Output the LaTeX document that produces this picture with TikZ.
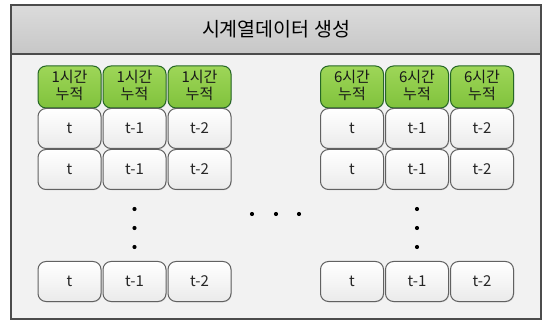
\documentclass[tikz,border=0pt]{standalone}
\usepackage{fontspec}
\setmainfont{Noto Sans CJK KR}
\usetikzlibrary{shadows}
\begin{document}
\begin{tikzpicture}[x=1pt,y=1pt,
  frame/.style={draw=black!70, line width=1.1pt},
  softshadow/.style={drop shadow={opacity=0.18, shadow xshift=0.8pt, shadow yshift=-0.8pt}},
  greenbox/.style={draw=green!30!black!85, line width=1pt, rounded corners=8pt,
    top color={rgb,255:red,158;green,214;blue,88}, bottom color={rgb,255:red,128;green,194;blue,60},
    minimum width=63pt, minimum height=42pt, inner sep=0pt, softshadow},
  greentext/.style={align=center, inner sep=0pt, text=black!90,
    font=\fontsize{15}{17}\selectfont},
  cellbox/.style={draw=black!62, line width=1pt, rounded corners=8pt,
    top color=white, bottom color=black!8,
    minimum width=63pt, minimum height=40pt, inner sep=0pt, softshadow},
  celltext/.style={font=\fontsize{15}{17}\selectfont, text=black!85},
  dotmark/.style={circle, fill=black, inner sep=0pt, minimum size=4.2pt}
]
\useasboundingbox (0,0) rectangle (542,-321);
% body and header
\fill[black!5] (11,-54) rectangle (541,-319);
\shade[top color=black!14, bottom color=black!22] (11,-5) rectangle (541,-54);
\draw[frame] (11,-5) rectangle (541,-319);
\draw[frame] (11,-54) -- (541,-54);
\node (title) at (276,-29.5) {\fontsize{19.5}{22}\selectfont 시계열데이터 생성};
% left group
\foreach \x/\n in {69.5/a,134.5/b,199.5/c}{
  \node[greenbox] (g\n) at (\x,-87) {};
  \node[greentext] at ([yshift=1.5pt]g\n.center) {1시간\\누적};
  \node[cellbox] (r1\n) at (\x,-128.5) {};
  \node[cellbox] (r2\n) at (\x,-169.5) {};
  \node[cellbox] (r3\n) at (\x,-281.5) {};
}
% right group
\foreach \x/\n in {352/d,417/e,482/f}{
  \node[greenbox] (g\n) at (\x,-87) {};
  \node[greentext] at ([yshift=1.5pt]g\n.center) {6시간\\누적};
  \node[cellbox] (r1\n) at (\x,-128.5) {};
  \node[cellbox] (r2\n) at (\x,-169.5) {};
  \node[cellbox] (r3\n) at (\x,-281.5) {};
}
\foreach \r in {1,2,3}{
  \node[celltext] at (r\r a) {t};
  \node[celltext] at (r\r b) {t-1};
  \node[celltext] at (r\r c) {t-2};
  \node[celltext] at (r\r d) {t};
  \node[celltext] at (r\r e) {t-1};
  \node[celltext] at (r\r f) {t-2};
}
% dots
\foreach \y/\k in {-209/1,-228/2,-247/3}{
  \node[dotmark] (vl\k) at (134.5,\y) {};
  \node[dotmark] (vr\k) at (417,\y) {};
}
\foreach \x/\k in {252/1,276/2,299/3}{
  \node[dotmark] (h\k) at (\x,-214) {};
}
\end{tikzpicture}
\end{document}
